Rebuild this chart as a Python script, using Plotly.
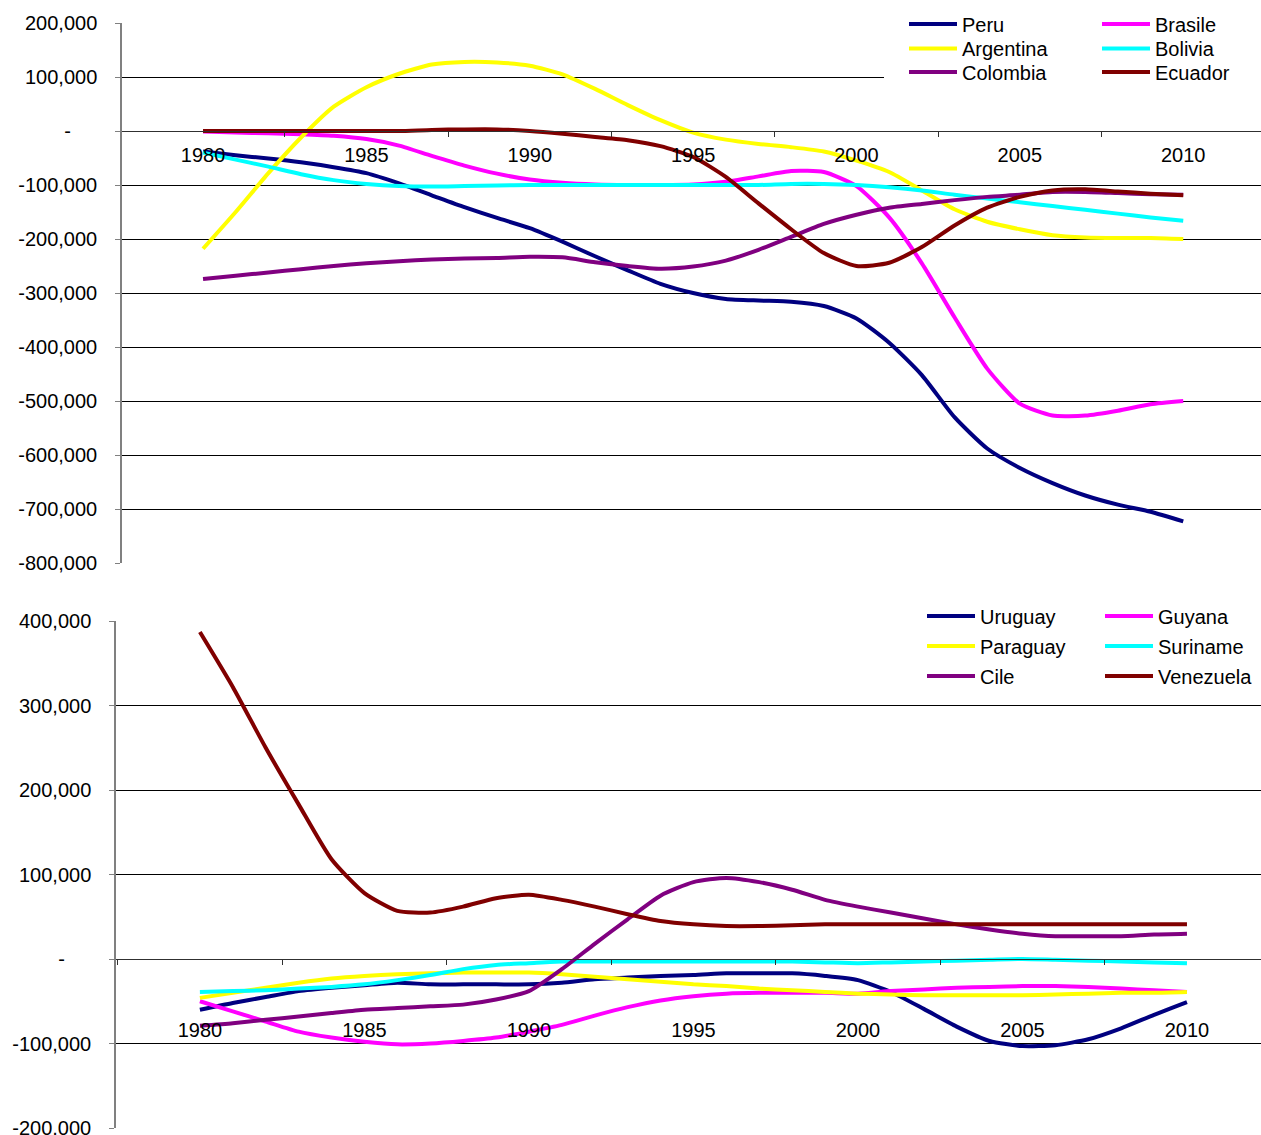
import plotly.graph_objects as go

years = list(range(1980, 2011))

# ---- top chart series ----
peru = [-38000, -45000, -51000, -58000, -67000, -78000, -97000, -119000, -141000, -161000,
        -180000, -205000, -232000, -258000, -283000, -300000, -311000, -314000, -316000, -324000,
        -347000, -392000, -452000, -530000, -588000, -624000, -652000, -675000, -692000, -705000, -723000]
brasile = [-1000, -3000, -4000, -6000, -9000, -15000, -27000, -46000, -64000, -79000,
           -90000, -96000, -99000, -100000, -100000, -99000, -94000, -84000, -74000, -76000,
           -102000, -160000, -245000, -345000, -440000, -505000, -527000, -527000, -518000, -506000, -500000]
argentina = [-218000, -150000, -78000, -12000, 45000, 81000, 106000, 123000, 128000, 127000,
             121000, 105000, 78000, 48000, 20000, -3000, -16000, -24000, -30000, -38000,
             -55000, -76000, -110000, -145000, -168000, -182000, -193000, -197000, -198000, -198000, -200000]
bolivia = [-40000, -53000, -66000, -80000, -91000, -98000, -102000, -103000, -102000, -101000,
           -100000, -100000, -100000, -100000, -100000, -100000, -100000, -100000, -98000, -98000,
           -100000, -104000, -110000, -118000, -125000, -132000, -139000, -146000, -153000, -160000, -166000]
colombia = [-274000, -268000, -262000, -256000, -250000, -245000, -241000, -238000, -236000, -235000,
            -233000, -234000, -243000, -250000, -255000, -251000, -240000, -220000, -196000, -172000,
            -155000, -142000, -135000, -128000, -122000, -118000, -113000, -113000, -115000, -117000, -118000]
ecuador = [0, 0, 0, 0, 0, 0, 0, 2000, 3000, 3000,
           0, -5000, -11000, -17000, -28000, -48000, -85000, -134000, -182000, -226000,
           -250000, -244000, -215000, -175000, -142000, -122000, -110000, -108000, -112000, -116000, -119000]

# ---- bottom chart series ----
uruguay = [-60000, -52000, -45000, -38000, -34000, -31000, -28000, -30000, -30000, -30000,
           -30000, -28000, -24000, -22000, -20000, -19000, -17000, -17000, -17000, -20000,
           -25000, -39000, -59000, -80000, -97000, -103000, -102000, -95000, -82000, -66000, -51000]
guyana = [-50000, -62000, -74000, -86000, -93000, -98000, -101000, -100000, -97000, -93000,
          -86000, -78000, -67000, -57000, -49000, -44000, -41000, -40000, -40000, -40000,
          -41000, -38000, -36000, -34000, -33000, -32000, -32000, -33000, -35000, -37000, -39000]
paraguay = [-46000, -40000, -34000, -28000, -23000, -20000, -18000, -17000, -16000, -16000,
            -16000, -18000, -21000, -24000, -27000, -30000, -32000, -35000, -37000, -39000,
            -41000, -42000, -43000, -43000, -43000, -43000, -42000, -41000, -40000, -40000, -39000]
suriname = [-39000, -38000, -37000, -35000, -33000, -30000, -25000, -19000, -12000, -7000,
            -5000, -3000, -3000, -3000, -3000, -3000, -3000, -3000, -3000, -4000,
            -5000, -4000, -3000, -2000, -1000, 0, -1000, -2000, -3000, -4000, -5000]
cile = [-79000, -76000, -72000, -68000, -64000, -60000, -58000, -56000, -54000, -48000,
        -38000, -12000, 18000, 47000, 75000, 91000, 96000, 91000, 82000, 70000,
        62000, 55000, 48000, 41000, 35000, 30000, 27000, 27000, 27000, 29000, 30000]
venezuela = [387000, 322000, 250000, 183000, 118000, 78000, 57000, 55000, 62000, 72000,
             76000, 70000, 62000, 53000, 45000, 41000, 39000, 39000, 40000, 41000,
             41000, 41000, 41000, 41000, 41000, 41000, 41000, 41000, 41000, 41000, 41000]

x_labels = [1980, 1985, 1990, 1995, 2000, 2005, 2010]
x_minor = [1977.5, 1982.5, 1987.5, 1992.5, 1997.5, 2002.5, 2007.5, 2012.5]

top_ticks = [200000, 100000, 0, -100000, -200000, -300000, -400000, -500000, -600000, -700000, -800000]
NB = "\u00a0"
ZERO = "-" + NB * 4 + "\u2009"
top_ticktext = ["200,000", "100,000", ZERO, "-100,000", "-200,000", "-300,000",
                "-400,000", "-500,000", "-600,000", "-700,000", "-800,000"]
bot_ticks = [400000, 300000, 200000, 100000, 0, -100000, -200000]
bot_ticktext = ["400,000", "300,000", "200,000", "100,000", ZERO, "-100,000", "-200,000"]

NAVY, MAG, YEL, CYAN, PURP, MAROON = "#000080", "#FF00FF", "#FFFF00", "#00FFFF", "#800080", "#800000"
FONT = "Liberation Sans, Arial, sans-serif"
W, H = 1261, 1135

def pfy(ypx):
    return 1 - ypx / H

def pfx(xpx):
    return xpx / W

top_dom = [pfy(563), pfy(23)]
bot_dom = [pfy(1128), pfy(621)]
top_range = [-800000, 200000]
bot_range = [-200000, 400000]
top_zero = top_dom[0] + (0 - top_range[0]) / (top_range[1] - top_range[0]) * (top_dom[1] - top_dom[0])
bot_zero = bot_dom[0] + (0 - bot_range[0]) / (bot_range[1] - bot_range[0]) * (bot_dom[1] - bot_dom[0])

fig = go.Figure()

top_series = [("Peru", peru, NAVY, "legend"), ("Brasile", brasile, MAG, "legend"),
              ("Argentina", argentina, YEL, "legend2"), ("Bolivia", bolivia, CYAN, "legend2"),
              ("Colombia", colombia, PURP, "legend3"), ("Ecuador", ecuador, MAROON, "legend3")]
bot_series = [("Uruguay", uruguay, NAVY, "legend4"), ("Guyana", guyana, MAG, "legend4"),
              ("Paraguay", paraguay, YEL, "legend5"), ("Suriname", suriname, CYAN, "legend5"),
              ("Cile", cile, PURP, "legend6"), ("Venezuela", venezuela, MAROON, "legend6")]

for name, vals, col, leg in top_series:
    fig.add_trace(go.Scatter(x=years, y=vals, name=name, mode="lines",
                             line=dict(color=col, width=4, shape="spline", smoothing=0.6),
                             xaxis="x", yaxis="y", legend=leg))
for name, vals, col, leg in bot_series:
    fig.add_trace(go.Scatter(x=years, y=vals, name=name, mode="lines",
                             line=dict(color=col, width=4, shape="spline", smoothing=0.6),
                             xaxis="x2", yaxis="y2", legend=leg))

tickfont = dict(family=FONT, size=20, color="black")

def xaxis(dom_left, rng, pos, standoff):
    return dict(domain=[dom_left, 1], range=rng, anchor="free", position=pos, automargin=False,
                showline=True, linecolor="#303030", linewidth=1,
                tickmode="array", tickvals=x_labels, ticks="", showgrid=False, zeroline=False,
                minor=dict(tickmode="array", tickvals=x_minor, ticks="outside", ticklen=5,
                           tickcolor="#303030", tickwidth=1, showgrid=False),
                ticklabelstandoff=standoff, ticklabeloverflow="allow", tickfont=tickfont)

def yaxis(dom, rng, tv, tt, anchor):
    return dict(domain=dom, range=rng, anchor=anchor, automargin=False,
                tickmode="array", tickvals=tv, ticktext=tt,
                showgrid=True, gridcolor="#000000", gridwidth=1, zeroline=False,
                showline=True, linecolor="#808080", linewidth=1.5,
                ticks="outside", ticklen=5, tickcolor="#808080", tickwidth=1,
                ticklabelstandoff=14, ticklabeloverflow="allow", tickfont=tickfont)

leg_font = dict(family=FONT, size=20, color="black")

def legend(x, y, ew):
    return dict(orientation="h", x=x, y=y, xanchor="left", yanchor="middle",
                bgcolor="rgba(0,0,0,0)", borderwidth=0, font=leg_font, itemwidth=48,
                entrywidth=ew, entrywidthmode="pixels", tracegroupgap=0)

fig.update_layout(
    template="none",
    width=W, height=H, margin=dict(l=0, r=0, t=0, b=0, autoexpand=False),
    paper_bgcolor="white", plot_bgcolor="white", showlegend=True,
    xaxis=xaxis(pfx(122), [1977.52, 2012.38], top_zero, 6),
    yaxis=yaxis(top_dom, top_range, top_ticks, top_ticktext, "x"),
    xaxis2=xaxis(pfx(116), [1977.45, 2012.25], bot_zero, 53),
    yaxis2=yaxis(bot_dom, bot_range, bot_ticks, bot_ticktext, "x2"),
    legend=legend(pfx(904), pfy(24), 130),
    legend2=legend(pfx(904), pfy(48.5), 130),
    legend3=legend(pfx(904), pfy(72), 130),
    legend4=legend(pfx(922), pfy(616), 115),
    legend5=legend(pfx(922), pfy(646), 115),
    legend6=legend(pfx(922), pfy(676), 115),
    shapes=[
        dict(type="rect", xref="paper", yref="paper", x0=pfx(884), x1=1, y0=pfy(88), y1=1,
             fillcolor="white", line=dict(width=0), layer="above"),
        dict(type="rect", xref="paper", yref="paper", x0=pfx(912), x1=1, y0=pfy(692), y1=pfy(602),
             fillcolor="white", line=dict(width=0), layer="above"),
    ],
)

fig.write_html("out.html", config={"displayModeBar": False},
               post_script="document.body.style.margin='0';document.body.style.overflow='hidden';")
